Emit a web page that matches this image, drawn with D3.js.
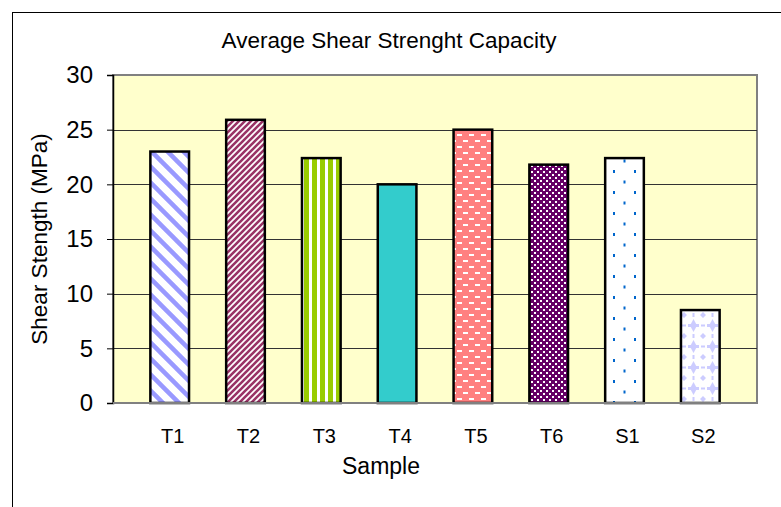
<!DOCTYPE html>
<html>
<head>
<meta charset="utf-8">
<script src="https://cdn.jsdelivr.net/npm/d3@7"></script>
<style>
  body { margin: 0; background: #ffffff; }
  text { font-family: Arial, "Liberation Sans", sans-serif; }
</style>
</head>
<body>
<div id="plot"></div>
<script>
var width = 781;
var height = 507;

// data
var samples = ['T1', 'T2', 'T3', 'T4', 'T5', 'T6', 'S1', 'S2'];
var strength = [23.0, 25.9, 22.4, 20.0, 25.0, 21.8, 22.4, 8.5];
var yTicks = [0, 5, 10, 15, 20, 25, 30];

var plot = { left: 113, right: 757, top: 75, bottom: 403 };

var canvas = d3.select('#plot')
    .append('svg')
    .attr('width', width)
    .attr('height', height);

var defs = canvas.append('defs');

// fill patterns, one per bar
function pattern(id, w, h, bg) {
    var p = defs.append('pattern')
        .attr('id', id)
        .attr('patternUnits', 'userSpaceOnUse')
        .attr('width', w)
        .attr('height', h);
    p.append('rect').attr('width', w).attr('height', h).attr('fill', bg);
    return p;
}

// T1 wide light blue diagonal stripes (\)
var p1 = pattern('p0', 16, 16, '#ffffff');
p1.append('path').attr('d', 'M-8,-8 L24,24 M-8,8 L8,24 M8,-8 L24,8')
    .attr('stroke', '#9999ff').attr('stroke-width', 4.5);

// T2 narrow maroon diagonal stripes (/)
var p2 = pattern('p1', 6, 6, '#ffffff');
p2.append('path').attr('d', 'M-3,9 L9,-3 M-3,3 L3,-3 M3,9 L9,3')
    .attr('stroke', '#993366').attr('stroke-width', 2.6);

// T3 green vertical stripes
var p3 = pattern('p2', 8, 8, '#ffffff');
p3.append('rect').attr('x', 0).attr('width', 5).attr('height', 8).attr('fill', '#99cc00');

// T4 solid
pattern('p3', 8, 8, '#33cccc');

// T5 salmon with white dashes
var p5 = pattern('p4', 12, 12, '#ff8080');
p5.append('rect').attr('x', 1).attr('y', 2).attr('width', 5).attr('height', 2).attr('fill', '#ffffff');
p5.append('rect').attr('x', 7).attr('y', 8).attr('width', 5).attr('height', 2).attr('fill', '#ffffff');

// T6 purple check
var p6 = pattern('p5', 6, 6, '#660066');
p6.append('rect').attr('x', 0).attr('y', 0).attr('width', 2).attr('height', 2).attr('fill', '#ffffff');
p6.append('rect').attr('x', 3).attr('y', 3).attr('width', 2).attr('height', 2).attr('fill', '#ffffff');

// S1 white with blue dots
var p7 = pattern('p6', 21, 21, '#ffffff');
p7.append('rect').attr('x', 4).attr('y', 2).attr('width', 2).attr('height', 3).attr('fill', '#0066cc');
p7.append('rect').attr('x', 14.5).attr('y', 12.5).attr('width', 2).attr('height', 3).attr('fill', '#0066cc');

// S2 white with lavender stars
var p8 = pattern('p7', 19, 21, '#ffffff');
p8.append('path').attr('d', 'M9.5,4 L13,10.5 L9.5,17 L6,10.5 Z').attr('fill', '#ccccff');
p8.append('path').attr('d', 'M4,10.5 L15,10.5').attr('stroke', '#ccccff').attr('stroke-width', 3);
p8.append('path').attr('d', 'M0,10.5 L2,10.5 M17,10.5 L19,10.5 M9.5,0 L9.5,2 M9.5,19 L9.5,21')
    .attr('stroke', '#ccccff').attr('stroke-width', 2);
p8.append('path').attr('d', 'M0,0 L3,0 L0,3 Z M19,0 L16,0 L19,3 Z M0,21 L3,21 L0,18 Z M19,21 L16,21 L19,18 Z')
    .attr('fill', '#ccccff');

// scales
var x = d3.scaleBand()
    .domain(samples)
    .range([plot.left, plot.right])
    .paddingInner(0.49)
    .paddingOuter(0.493);

var y = d3.scaleLinear()
    .domain([0, 30])
    .range([plot.bottom, plot.top]);

// chart border
canvas.append('rect')
    .attr('x', 12.5)
    .attr('y', 12.5)
    .attr('width', width + 20)
    .attr('height', height + 20)
    .attr('fill', 'none')
    .attr('stroke', '#000000')
    .attr('stroke-width', 1);

// plot background
canvas.append('rect')
    .attr('x', plot.left)
    .attr('y', plot.top)
    .attr('width', plot.right - plot.left)
    .attr('height', plot.bottom - plot.top)
    .attr('fill', '#ffffcc')
    .attr('stroke', '#808080')
    .attr('stroke-width', 2);

// gridlines
canvas.selectAll('line.grid')
    .data(yTicks.filter(function(d) { return d > 0 && d < 30; }))
    .enter()
    .append('line')
    .attr('class', 'grid')
    .attr('x1', plot.left)
    .attr('x2', plot.right)
    .attr('y1', function(d) { return Math.round(y(d)) + 0.5; })
    .attr('y2', function(d) { return Math.round(y(d)) + 0.5; })
    .attr('stroke', '#333333')
    .attr('stroke-width', 1);

// bars
canvas.selectAll('rect.bar')
    .data(strength)
    .enter()
    .append('rect')
    .attr('class', 'bar')
    .attr('x', function(d, i) { return x(samples[i]); })
    .attr('y', function(d) { return y(d); })
    .attr('width', x.bandwidth())
    .attr('height', function(d) { return y(0) - y(d); })
    .attr('fill', function(d, i) { return 'url(#p' + i + ')'; })
    .attr('stroke', '#000000')
    .attr('stroke-width', 2.5);

// y axis
var yAxis = d3.axisLeft(y)
    .tickValues(yTicks)
    .tickSize(6)
    .tickPadding(14);

var yg = canvas.append('g')
    .attr('transform', 'translate(' + plot.left + ',0)')
    .call(yAxis);
yg.select('.domain').attr('stroke', '#000000').attr('stroke-width', 1.5);
yg.selectAll('.tick line').attr('stroke', '#000000');
yg.selectAll('text')
    .attr('font-size', 24)
    .attr('font-family', 'Arial, "Liberation Sans", sans-serif')
    .attr('fill', '#000000');

// bottom axis line
canvas.append('line')
    .attr('x1', plot.left)
    .attr('x2', plot.right)
    .attr('y1', plot.bottom)
    .attr('y2', plot.bottom)
    .attr('stroke', '#808080')
    .attr('stroke-width', 2);

// x labels
canvas.selectAll('text.xlabel')
    .data(samples)
    .enter()
    .append('text')
    .attr('class', 'xlabel')
    .attr('x', function(d) { return x(d) + x.bandwidth() / 2 + 3; })
    .attr('y', 443)
    .attr('text-anchor', 'middle')
    .attr('font-size', 20)
    .attr('fill', '#000000')
    .text(function(d) { return d; });

// titles
canvas.append('text')
    .attr('x', 389)
    .attr('y', 48)
    .attr('text-anchor', 'middle')
    .attr('font-size', 22.5)
    .text('Average Shear Strenght Capacity');

canvas.append('text')
    .attr('x', 381)
    .attr('y', 474)
    .attr('text-anchor', 'middle')
    .attr('font-size', 23)
    .text('Sample');

canvas.append('text')
    .attr('transform', 'translate(47,' + ((plot.top + plot.bottom) / 2) + ') rotate(-90)')
    .attr('text-anchor', 'middle')
    .attr('font-size', 22.5)
    .text('Shear Stength (MPa)');
</script>
</body>
</html>
